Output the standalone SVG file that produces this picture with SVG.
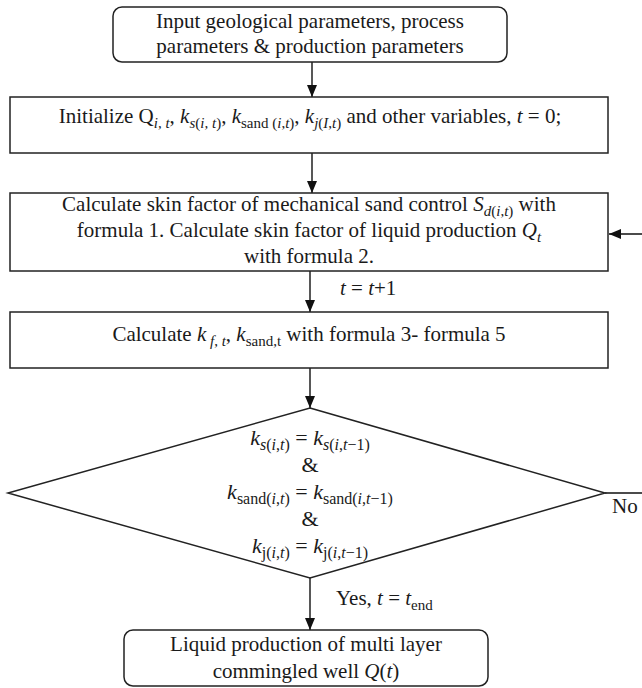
<svg xmlns="http://www.w3.org/2000/svg" width="642" height="688" viewBox="0 0 642 688">
<defs>
<style>
.box{fill:#fff;stroke:#222;stroke-width:1.5}
.t{font-family:"Liberation Serif","Times New Roman",serif;font-size:21px;fill:#1a1a1a}
.m{text-anchor:middle}
.i{font-style:italic}
.s{font-size:15px}
.d{font-size:22px}
.d .s{font-size:16px}
.c{fill:none;stroke:#111;stroke-width:1.4}
</style>
<marker id="ah" markerWidth="12" markerHeight="12" viewBox="0 0 12 12" refX="12" refY="6" orient="auto" markerUnits="userSpaceOnUse">
<path d="M0,1 L12,6 L0,11 Z" fill="#111"/>
</marker>
</defs>
<rect width="642" height="688" fill="#fff"/>

<g id="connectors">
<line class="c" x1="312" y1="62" x2="312" y2="97" marker-end="url(#ah)"/>
<line class="c" x1="312" y1="153" x2="312" y2="193" marker-end="url(#ah)"/>
<line class="c" x1="310" y1="271" x2="310" y2="312" marker-end="url(#ah)"/>
<line class="c" x1="310" y1="368" x2="310" y2="408" marker-end="url(#ah)"/>
<line class="c" x1="310" y1="578" x2="310" y2="630" marker-end="url(#ah)"/>
<path class="c" d="M605,493 H646 V234 H609" marker-end="url(#ah)"/>
<text class="t" x="340" y="295"><tspan class="i">t</tspan> = <tspan class="i">t</tspan>+1</text>
<text class="t" x="612" y="513">No</text>
<text class="t" x="336" y="605">Yes, <tspan class="i">t</tspan> = <tspan class="i">t</tspan><tspan class="s" dy="5">end</tspan></text>
</g>

<g id="input">
<rect class="box" x="113" y="7" width="394" height="55" rx="9"/>
<text class="t m" x="310" y="28">Input geological parameters, process</text>
<text class="t m" x="310" y="53">parameters &amp; production parameters</text>
</g>

<g id="initialize">
<rect class="box" x="10" y="97" width="598" height="56"/>
<text class="t m" x="310" y="123">Initialize Q<tspan class="s i" dy="5">i, t</tspan><tspan dy="-5">, </tspan><tspan class="i">k</tspan><tspan class="s" dy="5"><tspan class="i">s</tspan>(<tspan class="i">i, t</tspan>)</tspan><tspan dy="-5">, </tspan><tspan class="i">k</tspan><tspan class="s" dy="5">sand (<tspan class="i">i</tspan>,<tspan class="i">t</tspan>)</tspan><tspan dy="-5">, </tspan><tspan class="i">k</tspan><tspan class="s" dy="5"><tspan class="i">j</tspan>(<tspan class="i">I</tspan>,<tspan class="i">t</tspan>)</tspan><tspan dy="-5"> and other variables, </tspan><tspan class="i">t</tspan> = 0;</text>
</g>

<g id="skin">
<rect class="box" x="10" y="193" width="598" height="78"/>
<text class="t m" x="309" y="211">Calculate skin factor of mechanical sand control <tspan class="i">S</tspan><tspan class="s" dy="5"><tspan class="i">d</tspan>(<tspan class="i">i</tspan>,<tspan class="i">t</tspan>)</tspan><tspan dy="-5"> with</tspan></text>
<text class="t m" x="309" y="237">formula 1. Calculate skin factor of liquid production <tspan class="i">Q</tspan><tspan class="s i" dy="5">t</tspan></text>
<text class="t m" x="309" y="263">with formula 2.</text>
</g>

<g id="calc-k">
<rect class="box" x="10" y="312" width="598" height="56"/>
<text class="t m" x="309" y="341">Calculate <tspan class="i">k</tspan><tspan class="s" dy="5"> <tspan class="i">f</tspan>, <tspan class="i">t</tspan></tspan><tspan dy="-5">, </tspan><tspan class="i">k</tspan><tspan class="s" dy="5">sand,t</tspan><tspan dy="-5"> with formula 3- formula 5</tspan></text>
</g>

<g id="decision">
<polygon class="box" points="310,408 605,493 310,578 8,493"/>
<text class="t d m" x="310" y="445"><tspan class="i">k</tspan><tspan class="s" dy="5"><tspan class="i">s</tspan>(<tspan class="i">i</tspan>,<tspan class="i">t</tspan>)</tspan><tspan dy="-5"> = </tspan><tspan class="i">k</tspan><tspan class="s" dy="5"><tspan class="i">s</tspan>(<tspan class="i">i</tspan>,<tspan class="i">t</tspan>−1)</tspan></text>
<text class="t d m" x="310" y="472">&amp;</text>
<text class="t d m" x="310" y="499"><tspan class="i">k</tspan><tspan class="s" dy="5">sand(<tspan class="i">i</tspan>,<tspan class="i">t</tspan>)</tspan><tspan dy="-5"> = </tspan><tspan class="i">k</tspan><tspan class="s" dy="5">sand(<tspan class="i">i</tspan>,<tspan class="i">t</tspan>−1)</tspan></text>
<text class="t d m" x="310" y="526">&amp;</text>
<text class="t d m" x="310" y="553"><tspan class="i">k</tspan><tspan class="s" dy="5">j(<tspan class="i">i</tspan>,<tspan class="i">t</tspan>)</tspan><tspan dy="-5"> = </tspan><tspan class="i">k</tspan><tspan class="s" dy="5">j(<tspan class="i">i</tspan>,<tspan class="i">t</tspan>−1)</tspan></text>
</g>

<g id="output">
<rect class="box" x="124" y="630" width="364" height="56" rx="9"/>
<text class="t m" x="306" y="651">Liquid production of multi layer</text>
<text class="t m" x="306" y="678">commingled well <tspan class="i">Q</tspan>(<tspan class="i">t</tspan>)</text>
</g>
</svg>
